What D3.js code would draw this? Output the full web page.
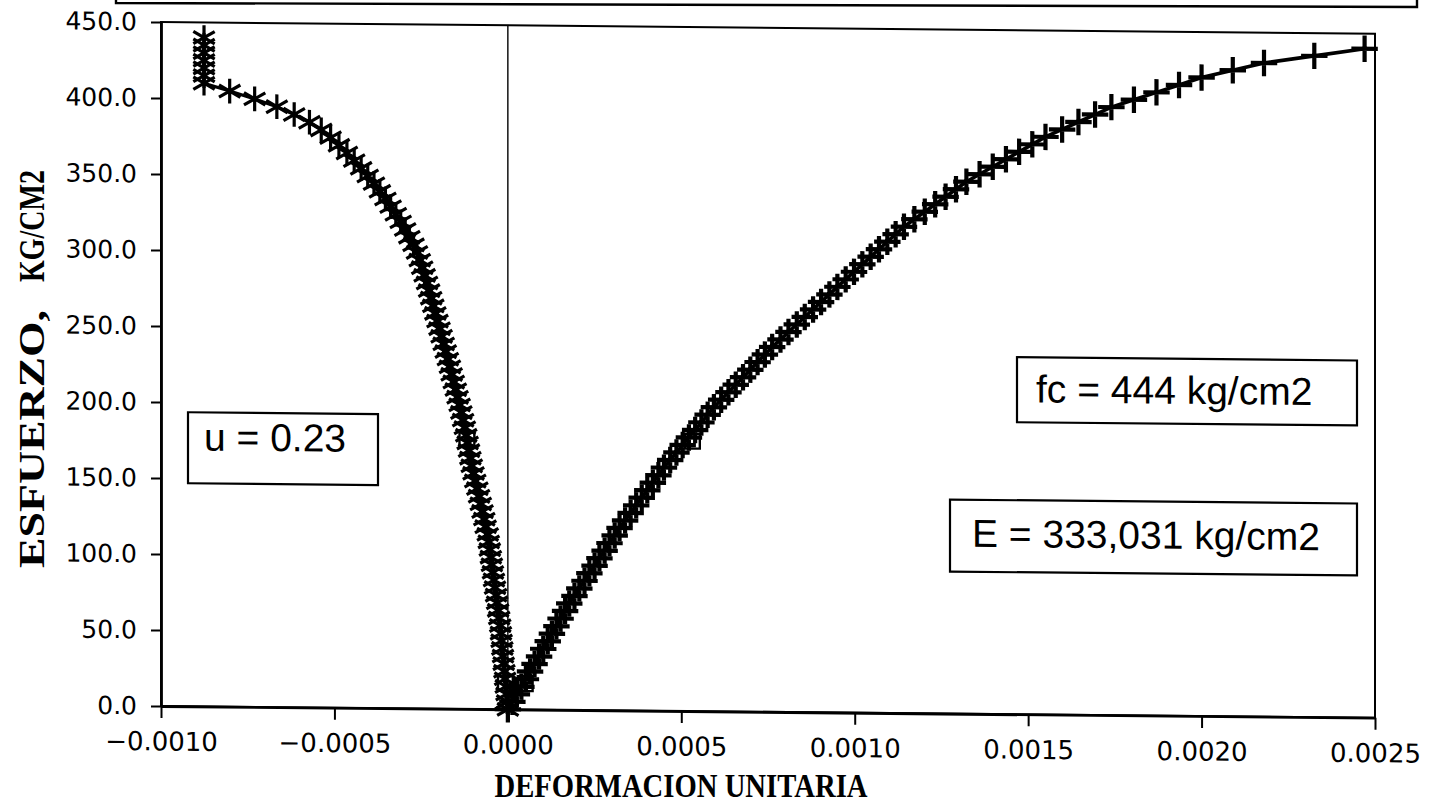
<!DOCTYPE html>
<html><head><meta charset="utf-8">
<script src="https://cdn.jsdelivr.net/npm/d3@7"></script>
<style>html,body{margin:0;padding:0;background:#fff}</style>
</head><body>
<svg id="chart" width="1442" height="807"></svg>
<script>
// Stress readings (kg/cm2) and the matching strains (micro-strain)
const stress = [0,5,10,15,20,25,30,35,40,45,50,55,60,65,70,75,80,85,90,95,100,105,110,115,120,125,130,135,140,145,150,155,160,165,170,175,180,185,190,195,200,205,210,215,220,225,230,235,240,245,250,255,260,265,270,275,280,285,290,295,300,305,310,315,320,325,330,335,340,345,350,355,360,365,370,375,380,385,390,395,400,405,410,415,420,425,430,435,440];
const axialStrain = [0,13,26,39,52,64,77,90,102,115,127,140,152,165,177,192,206,221,235,250,264,279,293,308,322,338,354,370,386,402,418,434,450,468,486,504,522,540,558,576,594,615,636,657,678,699,720,741,762,786,809,833,856,880,903,927,950,974,998,1022,1046,1070,1094,1118,1142,1172,1202,1232,1262,1292,1322,1360,1398,1436,1474,1512,1550,1598,1645,1693,1740,1805,1870,1935,2000,2090,2180,2325,2470];
const lateralStrain = [0,-2,-4,-6,-8,-10,-12,-14,-16,-18,-20,-22,-25,-28,-31,-34,-37,-40,-43,-46,-49,-52,-55,-58,-64,-68,-73,-78,-83,-88,-94,-99,-104,-108,-112,-116,-120,-124,-129,-134,-139,-145,-150,-156,-162,-167,-173,-179,-185,-191,-197,-203,-209,-215,-221,-227,-233,-240,-247,-254,-262,-272,-284,-296,-309,-323,-338,-353,-369,-386,-404,-423,-443,-464,-487,-511,-538,-572,-616,-666,-730,-802,-876,-876,-876,-876,-876,-876,-876];

// Points used for the modulus and Poisson ratio (50 micro-strain and 40% fc)
const refStress = [17, 177.6];
const refAxial = [50, 532];
const refLateral = [-7, -118];

// Axis ticks
const xTicks = [-0.0010,-0.0005,0.0000,0.0005,0.0010,0.0015,0.0020,0.0025];
const yTicks = [0,50,100,150,200,250,300,350,400,450];

// Annotations
const notes = ["u = 0.23", "fc = 444 kg/cm2", "E = 333,031 kg/cm2"];
const xTitle = "DEFORMACION UNITARIA";
const yTitleA = "ESFUERZO,";
const yTitleB = "KG/CM2";

const svg = d3.select("#chart");
const L = 161, R = 1375, T = 22, B = 706;

const x = d3.scaleLinear().domain([-0.001, 0.0025]).range([L, R]);
const y = d3.scaleLinear().domain([0, 450]).range([B, T]);

// slightly tilted sheet
const g = svg.append("g").attr("transform", `translate(${L},0) skewY(0.55) translate(${-L},0)`);

// frame
g.append("rect").attr("x", L).attr("y", T).attr("width", R - L).attr("height", B - T)
  .attr("fill", "none").attr("stroke", "#000").attr("stroke-width", 2);

// zero-strain line
g.append("line").attr("x1", x(0)).attr("x2", x(0)).attr("y1", T).attr("y2", B)
  .attr("stroke", "#000").attr("stroke-width", 1.4);

const tickFont = "'DejaVu Sans', sans-serif";

const yAxis = g.append("g").attr("transform", `translate(${L},0)`)
  .call(d3.axisLeft(y).tickValues(yTicks).tickFormat(d3.format(".1f")).tickSize(10).tickSizeOuter(0).tickPadding(14));
const xAxis = g.append("g").attr("transform", `translate(0,${B})`)
  .call(d3.axisBottom(x).tickValues(xTicks).tickFormat(d3.format(".4f")).tickSize(12).tickSizeOuter(0).tickPadding(14));
[yAxis, xAxis].forEach(a => {
  a.select(".domain").attr("stroke-width", 2.8);
  a.selectAll(".tick line").attr("stroke-width", 2);
  a.selectAll(".tick text").attr("font-family", tickFont).attr("fill", "#000");
});
yAxis.selectAll(".tick text").attr("font-size", 25);
xAxis.selectAll(".tick text").attr("font-size", 26);

const pts = (sv, strain) => sv.map((s, i) => [strain[i] * 1e-6, s]);
const lateralPts = pts(stress, lateralStrain);
const axialPts = pts(stress, axialStrain);
const refPts = pts(refStress, refAxial).concat(pts(refStress, refLateral));

const line = d3.line().x(d => x(d[0])).y(d => y(d[1]));
g.append("path").attr("d", line(lateralPts)).attr("fill", "none").attr("stroke", "#000").attr("stroke-width", 3.2);
g.append("path").attr("d", line(axialPts)).attr("fill", "none").attr("stroke", "#000").attr("stroke-width", 3.6);

const asterisk = d3.symbol().type(d3.symbolAsterisk).size(430)();
const plus = d3.symbol().type(d3.symbolPlus).size(230)();
const square = d3.symbol().type(d3.symbolSquare2).size(280)();

const place = d => `translate(${x(d[0])},${y(d[1])})`;

g.append("g").selectAll("path").data(lateralPts).join("path")
  .attr("transform", place).attr("d", asterisk)
  .attr("fill", "none").attr("stroke", "#000").attr("stroke-width", 3.2);

g.append("g").selectAll("path").data(axialPts).join("path")
  .attr("transform", place).attr("d", plus)
  .attr("fill", "none").attr("stroke", "#000").attr("stroke-width", 4.2);

g.append("g").selectAll("path").data(refPts).join("path")
  .attr("transform", place).attr("d", square)
  .attr("fill", "none").attr("stroke", "#000").attr("stroke-width", 2.4);

// annotation boxes
const boxes = [
  {x0: 188, y0: 412, x1: 378, y1: 483, tx: 204, ty: 450},
  {x0: 1017, y0: 349, x1: 1357, y1: 414, tx: 1036, ty: 394},
  {x0: 950, y0: 492, x1: 1357, y1: 564, tx: 972, ty: 539}
];
boxes.forEach((b, i) => {
  g.append("rect").attr("x", b.x0).attr("y", b.y0).attr("width", b.x1 - b.x0).attr("height", b.y1 - b.y0)
    .attr("fill", "#fff").attr("stroke", "#000").attr("stroke-width", 2.2);
  g.append("text").attr("x", b.tx).attr("y", b.ty).text(notes[i])
    .attr("font-family", "'Liberation Sans', Arial, sans-serif").attr("font-size", 39).attr("fill", "#000");
});

// top border of the heading panel
svg.append("path").attr("d", "M116,-10L116,3L1417,7L1417,-10").attr("fill", "none").attr("stroke", "#000").attr("stroke-width", 2.4);

// axis titles
const serif = "'Liberation Serif', 'Times New Roman', serif";
svg.append("text").attr("x", 681).attr("y", 797).attr("text-anchor", "middle").text(xTitle)
  .attr("font-family", serif).attr("font-size", 34).attr("font-weight", "bold")
  .attr("textLength", 373).attr("lengthAdjust", "spacingAndGlyphs").attr("fill", "#000");
const yt = svg.append("g").attr("transform", "translate(44,0) rotate(-90)");
yt.append("text").attr("x", -568).attr("y", 0).text(yTitleA)
  .attr("font-family", serif).attr("font-size", 36).attr("font-weight", "bold")
  .attr("textLength", 258).attr("lengthAdjust", "spacingAndGlyphs").attr("fill", "#000");
yt.append("text").attr("x", -282).attr("y", 0).text(yTitleB)
  .attr("font-family", serif).attr("font-size", 36).attr("font-weight", "bold")
  .attr("textLength", 112).attr("lengthAdjust", "spacingAndGlyphs").attr("fill", "#000");
</script>
</body></html>
